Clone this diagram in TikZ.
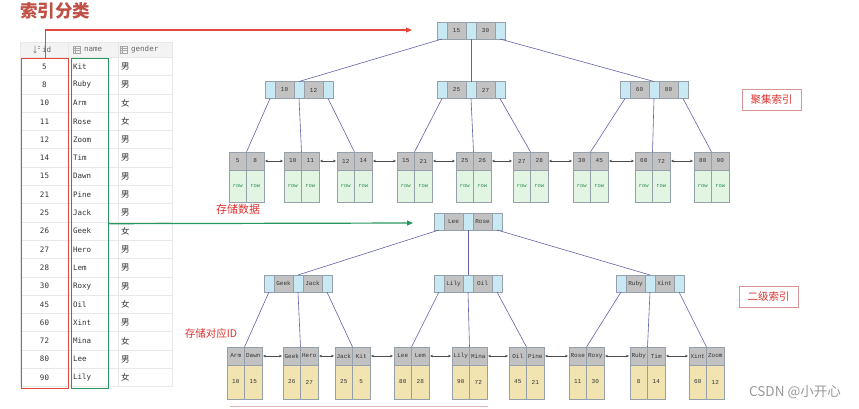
\documentclass[tikz,border=0pt]{standalone}
\usepackage{fontspec}
\setmainfont{Liberation Sans}
\newfontfamily\cjk{Noto Sans CJK SC}
\newfontfamily\treemono{Liberation Mono}
\newfontfamily\tabmono{DejaVu Sans Mono}
\usetikzlibrary{arrows.meta, positioning}

\definecolor{TitleRed}{RGB}{192, 80, 70}
\definecolor{IdRed}{RGB}{226, 72, 60}
\definecolor{NameGreen}{RGB}{40, 150, 95}
\definecolor{LabelRed}{RGB}{222, 52, 48}
\definecolor{LabelLine}{RGB}{214, 150, 150}
\definecolor{CellBlue}{RGB}{200, 232, 243}
\definecolor{CellGray}{RGB}{194, 194, 194}
\definecolor{CellLine}{RGB}{150, 160, 170}
\definecolor{RowGreen}{RGB}{226, 245, 226}
\definecolor{RowText}{RGB}{45, 140, 85}
\definecolor{IdYellow}{RGB}{241, 228, 176}
\definecolor{EdgeBlue}{RGB}{98, 98, 170}
\definecolor{GridGray}{RGB}{232, 232, 232}
\definecolor{HeadGray}{RGB}{243, 243, 243}

\newcommand{\keyfont}{\treemono\fontsize{6}{6}\selectfont}

\tikzset{
    bcell/.style={draw=CellLine, fill=CellBlue, minimum width=10pt, minimum height=17pt, inner sep=0pt, outer sep=0pt},
    kcell/.style={draw=CellLine, fill=CellGray, minimum width=19pt, minimum height=17pt, inner sep=0pt, outer sep=0pt, font=\keyfont, text=black!80},
    lkey/.style={draw=CellLine, fill=CellGray, minimum width=17.5pt, minimum height=18pt, inner sep=0pt, outer sep=0pt, font=\keyfont, text=black!80},
    rowcell/.style={draw=CellLine, fill=RowGreen, minimum width=17.5pt, minimum height=32pt, inner sep=0pt, outer sep=0pt, font=\treemono\fontsize{5.5}{5.5}\selectfont, text=RowText},
    idcell/.style={draw=CellLine, fill=IdYellow, minimum width=17.5pt, minimum height=34pt, inner sep=0pt, outer sep=0pt, font=\keyfont, text=black!80},
    treeedge/.style={draw=EdgeBlue, line width=0.6pt},
    leaflink/.style={<->, >={Stealth[length=3pt, width=2.6pt]}, draw=black!70, line width=0.5pt, shorten <=1pt, shorten >=1pt},
    catbox/.style={draw=LabelLine, line width=0.8pt, minimum width=59pt, minimum height=21pt, inner sep=0pt, font=\cjk\fontsize{10.5}{10.5}\selectfont, text=LabelRed},
    tabtext/.style={inner sep=0pt, font=\tabmono\fontsize{7.5}{7.5}\selectfont, text=black!80},
}

% inner node: name, left, top, key 1, key 2
\newcommand{\inode}[5]{%
    \node[bcell, anchor=north west] (#1-b1) at (#2,#3) {};
    \node[kcell, right=0pt of #1-b1] (#1-k1) {#4};
    \node[bcell, right=0pt of #1-k1] (#1-b2) {};
    \node[kcell, right=0pt of #1-b2] (#1-k2) {#5};
    \node[bcell, right=0pt of #1-k2] (#1-b3) {};
}
% clustered leaf: name, left, top, key 1, key 2
\newcommand{\cleaf}[5]{%
    \node[lkey, anchor=north west] (#1-k1) at (#2,#3) {#4};
    \node[lkey, right=0pt of #1-k1] (#1-k2) {#5};
    \node[rowcell, below=0pt of #1-k1] (#1-r1) {row};
    \node[rowcell, below=0pt of #1-k2] (#1-r2) {row};
}
% secondary leaf: name, left, top, key 1, key 2, id 1, id 2
\newcommand{\sleaf}[7]{%
    \node[lkey, anchor=north west] (#1-k1) at (#2,#3) {#4};
    \node[lkey, right=0pt of #1-k1] (#1-k2) {#5};
    \node[idcell, below=0pt of #1-k1] (#1-v1) {#6};
    \node[idcell, below=0pt of #1-k2] (#1-v2) {#7};
}

\begin{document}
\begin{tikzpicture}[x=1pt, y=-1pt, >=Stealth]
    \useasboundingbox[fill=white] (0,0) rectangle (859,408);

    \node[anchor=north west, inner sep=0pt, font=\cjk\bfseries\fontsize{17.5}{17.5}\selectfont, text=TitleRed] (title) at (20,2) {索引分类};

    % table
    \fill[HeadGray] (20,42) rectangle (172,57.2);
    \foreach \k in {0,...,18}
        \draw[GridGray, line width=0.6pt] (20,57.2+\k*18.3) -- (172,57.2+\k*18.3);
    \foreach \xx in {20,68,118,172}
        \draw[GridGray, line width=0.6pt] (\xx,42) -- (\xx,386.6);
    \draw[GridGray, line width=0.6pt] (20,42) -- (172,42);
    % header icons
    \draw[black!45, line width=0.6pt] (35,45.5) -- (35,53) (33.5,51.5) -- (35,53) -- (36.5,51.5);
    \draw[black!35, line width=0.5pt] (37.5,46) -- (40,46) (37.5,48.5) -- (40,48.5);
    \foreach \xx in {73,120}
        \draw[black!35, line width=0.5pt] (\xx,46) rectangle (\xx+7,53) (\xx,48.3) -- (\xx+7,48.3) (\xx,50.6) -- (\xx+7,50.6) (\xx+2.5,46) -- (\xx+2.5,53);
    \node[tabtext, text=black!60, anchor=west] (h-id) at (42,49.6) {id};
    \node[tabtext, text=black!60, anchor=west] (h-name) at (84,49.6) {name};
    \node[tabtext, text=black!60, anchor=west] (h-gender) at (131,49.6) {gender};
    \foreach \vid/\vname/\vgen [count=\i] in {5/Kit/男, 8/Ruby/男, 10/Arm/女, 11/Rose/女, 12/Zoom/男, 14/Tim/男, 15/Dawn/男, 21/Pine/男, 25/Jack/男, 26/Geek/女, 27/Hero/男, 28/Lem/男, 30/Roxy/男, 45/Oil/女, 60/Xint/男, 72/Mina/女, 80/Lee/男, 90/Lily/女} {
        \node[tabtext] (id-\i) at (44.5,48.15+\i*18.3) {\vid};
        \node[tabtext, anchor=west] (nm-\i) at (73,48.15+\i*18.3) {\vname};
        \node[tabtext, anchor=west, font=\cjk\fontsize{8.5}{8.5}\selectfont] (gd-\i) at (121,48.15+\i*18.3) {\vgen};
    }
    \node[draw=IdRed, line width=1.4pt, minimum width=47pt, minimum height=330pt, anchor=north west, inner sep=0pt] (idbox) at (21,58) {};
    \node[draw=NameGreen, line width=1.4pt, minimum width=36.5pt, minimum height=330pt, anchor=north west, inner sep=0pt] (namebox) at (71,58) {};

    \coordinate (clu-in) at (412,30);
    \coordinate (sec-in) at (413,223);
    \draw[-{Triangle[length=6pt, width=5pt]}, IdRed, line width=1.2pt] (idbox.north) |- (clu-in);
    \draw[-{Triangle[length=6pt, width=5pt]}, NameGreen, line width=1.2pt] (namebox.east) -- (sec-in);

    % clustered index
    \inode{croot}{437}{22}{15}{30}
    \inode{cm1}{265}{81.5}{10}{12}
    \inode{cm2}{437}{81.5}{25}{27}
    \inode{cm3}{620}{81.5}{60}{80}
    \cleaf{cl1}{229}{152}{5}{8}
    \cleaf{cl2}{284}{152}{10}{11}
    \cleaf{cl3}{337}{152}{12}{14}
    \cleaf{cl4}{397}{152}{15}{21}
    \cleaf{cl5}{456}{152}{25}{26}
    \cleaf{cl6}{513}{152}{27}{28}
    \cleaf{cl7}{573}{152}{30}{45}
    \cleaf{cl8}{635}{152}{60}{72}
    \cleaf{cl9}{694}{152}{80}{90}
    \draw[treeedge] (croot-b1.south) -- (cm1-b2.north);
    \draw[treeedge] (croot-b2.south) -- (cm2-b2.north);
    \draw[treeedge] (croot-b3.south) -- (cm3-b2.north);
    \foreach \m/\a/\b/\c in {cm1/cl1/cl2/cl3, cm2/cl4/cl5/cl6, cm3/cl7/cl8/cl9} {
        \draw[treeedge] (\m-b1.south) -- (\a-k1.north east);
        \draw[treeedge] (\m-b2.south) -- (\b-k1.north east);
        \draw[treeedge] (\m-b3.south) -- (\c-k1.north east);
    }
    \foreach \a/\b in {cl1/cl2, cl2/cl3, cl3/cl4, cl4/cl5, cl5/cl6, cl6/cl7, cl7/cl8, cl8/cl9}
        \draw[leaflink] (\a-k2.east) -- (\b-k1.west);

    % secondary index
    \inode{sroot}{434}{213}{Lee}{Rose}
    \inode{sm1}{264}{275}{Geek}{Jack}
    \inode{sm2}{434}{275}{Lily}{Oil}
    \inode{sm3}{616}{275}{Ruby}{Xint}
    \sleaf{sl1}{227}{347}{Arm}{Dawn}{10}{15}
    \sleaf{sl2}{283}{347}{Geek}{Hero}{26}{27}
    \sleaf{sl3}{335}{347}{Jack}{Kit}{25}{5}
    \sleaf{sl4}{394}{347}{Lee}{Lem}{80}{28}
    \sleaf{sl5}{452}{347}{Lily}{Mina}{90}{72}
    \sleaf{sl6}{509}{347}{Oil}{Pine}{45}{21}
    \sleaf{sl7}{569}{347}{Rose}{Roxy}{11}{30}
    \sleaf{sl8}{630}{347}{Ruby}{Tim}{8}{14}
    \sleaf{sl9}{689}{347}{Xint}{Zoom}{60}{12}
    \draw[treeedge] (sroot-b1.south) -- (sm1-b2.north);
    \draw[treeedge] (sroot-b2.south) -- (sm2-b2.north);
    \draw[treeedge] (sroot-b3.south) -- (sm3-b2.north);
    \foreach \m/\a/\b/\c in {sm1/sl1/sl2/sl3, sm2/sl4/sl5/sl6, sm3/sl7/sl8/sl9} {
        \draw[treeedge] (\m-b1.south) -- (\a-k1.north east);
        \draw[treeedge] (\m-b2.south) -- (\b-k1.north east);
        \draw[treeedge] (\m-b3.south) -- (\c-k1.north east);
    }
    \foreach \a/\b in {sl1/sl2, sl2/sl3, sl3/sl4, sl4/sl5, sl5/sl6, sl6/sl7, sl7/sl8, sl8/sl9}
        \draw[leaflink] (\a-k2.east) -- (\b-k1.west);

    % labels
    \node[catbox] (lbl-clu) at (771.5,99.5) {聚集索引};
    \node[catbox] (lbl-sec) at (768.5,296.5) {二级索引};
    \node[inner sep=0pt, font=\cjk\fontsize{11}{11}\selectfont, text=LabelRed] (txt-data) at (238,209) {存储数据};
    \node[inner sep=0pt, font=\cjk\fontsize{10.5}{10.5}\selectfont, text=LabelRed] (txt-id) at (211,333) {存储对应ID};
    \draw[LabelLine!70, line width=0.8pt] (230,406.5) -- (488,406.5);
    \node[inner sep=0pt, font=\cjk\fontsize{13.5}{13.5}\selectfont, text=black!40] (mark) at (795,392) {CSDN @小开心};
\end{tikzpicture}
\end{document}
